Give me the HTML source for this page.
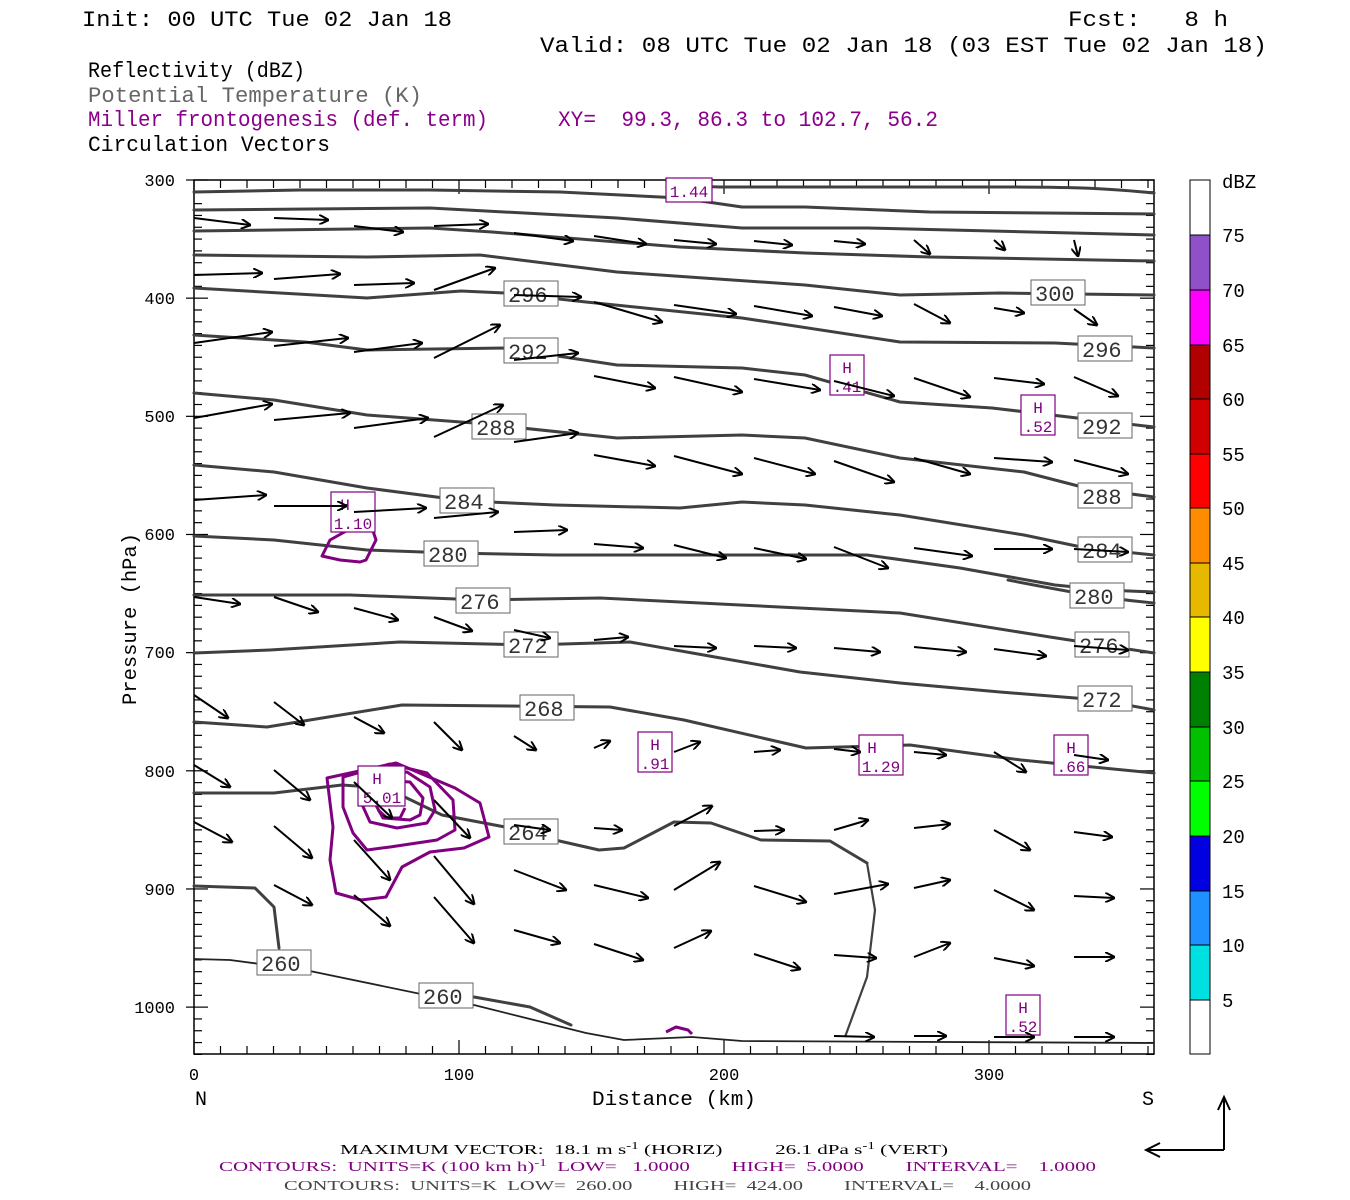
<!DOCTYPE html>
<html><head><meta charset="utf-8"><style>
html,body{margin:0;padding:0;background:#fff}
svg{display:block}
text{font-family:"Liberation Serif","DejaVu Serif",serif;white-space:pre}
.m,.m text,text.m{font-family:"Liberation Mono","DejaVu Sans Mono",monospace}
</style></head><body>
<svg width="1350" height="1200" viewBox="0 0 1350 1200" xmlns="http://www.w3.org/2000/svg" xml:space="preserve">
<defs><marker id="ah" markerWidth="10" markerHeight="10" refX="9" refY="5" orient="auto" markerUnits="userSpaceOnUse"><path d="M0,0 L10,5 L0,10" fill="none" stroke="#000" stroke-width="2"/></marker></defs>
<g class="m" font-size="22" fill="#000">
<text x="82" y="26" textLength="370" lengthAdjust="spacingAndGlyphs">Init: 00 UTC Tue 02 Jan 18</text>
<text x="1068" y="26" textLength="160" lengthAdjust="spacingAndGlyphs">Fcst:   8 h</text>
<text x="540" y="52" textLength="727" lengthAdjust="spacingAndGlyphs">Valid: 08 UTC Tue 02 Jan 18 (03 EST Tue 02 Jan 18)</text>
<text x="88" y="77" textLength="217" lengthAdjust="spacingAndGlyphs">Reflectivity (dBZ)</text>
<text x="88" y="102" fill="#666" textLength="334" lengthAdjust="spacingAndGlyphs">Potential Temperature (K)</text>
<text x="88" y="126" fill="#8b008b" textLength="400" lengthAdjust="spacingAndGlyphs">Miller frontogenesis (def. term)</text>
<text x="558" y="126" fill="#8b008b" textLength="380" lengthAdjust="spacingAndGlyphs">XY=  99.3, 86.3 to 102.7, 56.2</text>
<text x="88" y="151" textLength="242" lengthAdjust="spacingAndGlyphs">Circulation Vectors</text>
</g>
<rect x="194" y="180" width="960" height="874" fill="none" stroke="#000" stroke-width="1.5"/>
<g id="ticks" stroke="#000" stroke-width="1.2"></g>
<g class="m" font-size="17" text-anchor="end">
<text x="175" y="186">300</text><text x="175" y="304">400</text><text x="175" y="422">500</text><text x="175" y="540">600</text><text x="175" y="658">700</text><text x="175" y="777">800</text><text x="175" y="895">900</text><text x="175" y="1013">1000</text>
</g>
<g class="m" font-size="17" text-anchor="middle">
<text x="194" y="1080">0</text><text x="459" y="1080">100</text><text x="724" y="1080">200</text><text x="989" y="1080">300</text>
</g>
<g class="m" font-size="20">
<text x="195" y="1105">N</text><text x="1142" y="1105">S</text>
<text x="592" y="1105" textLength="164" lengthAdjust="spacingAndGlyphs">Distance (km)</text>
<text transform="translate(136,705) rotate(-90)" textLength="172" lengthAdjust="spacingAndGlyphs">Pressure (hPa)</text>
</g>
<!-- theta contours -->
<g fill="none" stroke="#404040" stroke-width="3" stroke-linejoin="round" stroke-linecap="round">
<path d="M666,180 C690,184 700,187 720,187 S900,187 1000,187 S1120,190 1154,193"/>
<path d="M194,192 L300,190 L430,190 L560,192 L680,198 L742,207 L805,207 L930,212 L1154,214"/>
<path d="M194,210 L430,208 L617,218 L742,228 L867,228 L1154,235"/>
<path d="M194,231 L430,228 L492,232 L680,247 L805,253 L930,257 L1154,261"/>
<path d="M194,255 L367,257 L480,255 L617,272 L805,285 L900,295 L1000,293 L1154,295"/>
<path d="M194,288 L367,298 L461,291 L505,293 L586,302 L742,318 L900,342 L1055,343 L1154,348"/>
<path d="M194,335 L305,342 L367,350 L505,348 L617,365 L742,368 L805,375 L900,402 L992,408 L1154,427"/>
<path d="M194,393 L274,400 L367,415 L474,423 L617,438 L742,435 L805,438 L900,458 L1024,472 L1086,488 L1154,497"/>
<path d="M194,465 L274,472 L367,488 L467,501 L555,505 L680,508 L742,502 L805,505 L900,515 L1024,535 L1086,548 L1154,555"/>
<path d="M194,536 L274,540 L367,550 L451,553 L555,555 L867,555 L960,568 L1055,585 L1105,590 L1154,592"/>
<path d="M1008,580 C1060,590 1100,598 1154,603"/>
<path d="M194,595 L350,595 L482,600 L600,598 L700,603 L900,613 L1050,637 L1154,653"/>
<path d="M194,653 L270,650 L400,642 L530,645 L630,642 L715,657 L800,672 L900,683 L1000,692 L1100,700 L1154,710"/>
<path d="M194,722 L267,727 L402,705 L610,707 L684,720 L806,748 L910,745 L1021,760 L1154,773"/>
<path d="M194,793 L274,793 L342,785 L386,788 L442,815 L505,827 L555,840 L599,850 L624,848 L674,822 L711,823 L761,840 L830,841 L867,863"/>
<path d="M194,886 L255,888 L274,907 L279,948"/>
<path d="M474,997 L530,1007 L571,1025"/>
</g>
<g fill="none" stroke="#404040" stroke-width="2.2" stroke-linejoin="round">
<path d="M867,863 L875,910 L867,977 L845,1037"/>
</g>
<g fill="none" stroke="#222" stroke-width="1.8" stroke-linejoin="round">
<path d="M194,959 L230,960 L305,970 L474,1005 L586,1033 L624,1040 L692,1037 L742,1041 L1154,1043"/>
</g>
<!-- theta labels -->
<g class="m" font-size="22" fill="#333">
<g stroke="#666" stroke-width="1" fill="#fff">
<rect x="504" y="281" width="54" height="25"/><rect x="1031" y="280" width="54" height="25"/>
<rect x="504" y="338" width="54" height="25"/><rect x="1078" y="336" width="54" height="25"/>
<rect x="472" y="414" width="54" height="25"/><rect x="1078" y="413" width="54" height="25"/>
<rect x="440" y="488" width="54" height="25"/><rect x="1078" y="483" width="54" height="25"/>
<rect x="424" y="541" width="54" height="25"/><rect x="1078" y="537" width="54" height="25"/>
<rect x="456" y="588" width="54" height="25"/><rect x="1070" y="583" width="54" height="25"/>
<rect x="504" y="632" width="54" height="25"/><rect x="1075" y="632" width="54" height="25"/>
<rect x="520" y="695" width="54" height="25"/><rect x="1078" y="686" width="54" height="25"/>
<rect x="504" y="819" width="54" height="25"/>
<rect x="257" y="950" width="54" height="25"/><rect x="419" y="983" width="54" height="25"/>
</g>
<text x="508" y="302">296</text><text x="1035" y="301">300</text>
<text x="508" y="359">292</text><text x="1082" y="357">296</text>
<text x="476" y="435">288</text><text x="1082" y="434">292</text>
<text x="444" y="509">284</text><text x="1082" y="504">288</text>
<text x="428" y="562">280</text><text x="1082" y="558">284</text>
<text x="460" y="609">276</text><text x="1074" y="604">280</text>
<text x="508" y="653">272</text><text x="1079" y="653">276</text>
<text x="524" y="716">268</text><text x="1082" y="707">272</text>
<text x="508" y="840">264</text>
<text x="261" y="971">260</text><text x="423" y="1004">260</text>
</g>
<!-- frontogenesis contours -->
<g fill="none" stroke="#800080" stroke-width="3" stroke-linejoin="round">
<path d="M327,778 L396,763 L455,788 L480,803 L489,837 L464,848 L430,852 L402,867 L386,897 L361,900 L336,893 L330,860 L333,827 Z"/>
<path d="M343,777 L390,764 L427,773 L453,800 L455,830 L437,840 L390,847 L367,850 L353,833 L343,807 Z"/>
<path d="M365,777 L407,772 L430,787 L435,810 L427,823 L397,828 L370,822 L360,800 Z"/>
<path d="M380,780 L410,782 L423,798 L420,815 L410,820 L383,818 L373,800 Z"/>
<path d="M378,810 L387,818 L400,818 L405,808"/>
<path d="M330,540 L348,530 L372,528 L376,540 L366,560 L360,562 L340,560 L322,556 Z"/>
<path d="M666,1032 L676,1027 L688,1030 L692,1034"/>
</g>
<!-- H labels -->
<g class="m" font-size="16" fill="#800080" text-anchor="middle">
<g fill="#fff" stroke="#800080" stroke-width="1.2">
<rect x="666" y="178" width="46" height="24"/>
<rect x="830" y="355" width="34" height="40"/>
<rect x="1021" y="395" width="34" height="40"/>
<rect x="331" y="492" width="44" height="40"/>
<rect x="638" y="732" width="34" height="40"/>
<rect x="859" y="735" width="44" height="40"/>
<rect x="1054" y="735" width="34" height="40"/>
<rect x="358" y="766" width="47" height="40"/>
<rect x="1006" y="995" width="34" height="40"/>
</g>
<text x="689" y="197">1.44</text>
<text x="847" y="373">H</text><text x="847" y="392">.41</text>
<text x="1038" y="413">H</text><text x="1038" y="432">.52</text>
<text x="345" y="510">H</text><text x="353" y="529">1.10</text>
<text x="655" y="750">H</text><text x="655" y="769">.91</text>
<text x="872" y="753">H</text><text x="881" y="772">1.29</text>
<text x="1071" y="753">H</text><text x="1071" y="772">.66</text>
<text x="377" y="784">H</text><text x="382" y="803">5.01</text>
<text x="1023" y="1013">H</text><text x="1023" y="1032">.52</text>
</g>
<!-- vectors -->
<g id="vec" stroke="#000" stroke-width="2" marker-end="url(#ah)"></g>
<!-- colorbar -->
<g stroke="#000" stroke-width="1">
<rect x="1190" y="180" width="20" height="55" fill="#fff"/>
<rect x="1190" y="235" width="20" height="55" fill="#9050c8"/>
<rect x="1190" y="290" width="20" height="55" fill="#ff00ff"/>
<rect x="1190" y="345" width="20" height="54" fill="#b00000"/>
<rect x="1190" y="399" width="20" height="55" fill="#d00000"/>
<rect x="1190" y="454" width="20" height="54" fill="#ff0000"/>
<rect x="1190" y="508" width="20" height="55" fill="#ff8c00"/>
<rect x="1190" y="563" width="20" height="54" fill="#e6b800"/>
<rect x="1190" y="617" width="20" height="55" fill="#ffff00"/>
<rect x="1190" y="672" width="20" height="55" fill="#008000"/>
<rect x="1190" y="727" width="20" height="54" fill="#00c000"/>
<rect x="1190" y="781" width="20" height="55" fill="#00ff00"/>
<rect x="1190" y="836" width="20" height="55" fill="#0000e0"/>
<rect x="1190" y="891" width="20" height="54" fill="#1e90ff"/>
<rect x="1190" y="945" width="20" height="55" fill="#00e0e0"/>
<rect x="1190" y="1000" width="20" height="54" fill="#fff"/>
</g>
<g class="m" font-size="19">
<text x="1222" y="188">dBZ</text>
<text x="1222" y="242">75</text><text x="1222" y="297">70</text><text x="1222" y="352">65</text><text x="1222" y="406">60</text><text x="1222" y="461">55</text><text x="1222" y="515">50</text><text x="1222" y="570">45</text><text x="1222" y="624">40</text><text x="1222" y="679">35</text><text x="1222" y="734">30</text><text x="1222" y="788">25</text><text x="1222" y="843">20</text><text x="1222" y="898">15</text><text x="1222" y="952">10</text><text x="1222" y="1007">5</text>
</g>
<!-- reference arrows -->
<g stroke="#000" stroke-width="2" fill="none">
<path d="M1224,1150 L1224,1097 M1218,1110 L1224,1097 L1230,1110"/>
<path d="M1224,1150 L1146,1150 M1160,1143 L1146,1150 L1160,1157"/>
</g>
<!-- footer -->
<g font-size="14">
<text x="340" y="1154" textLength="608" lengthAdjust="spacingAndGlyphs">MAXIMUM VECTOR:  18.1 m s<tspan dy="-5" font-size="10">-1</tspan><tspan dy="5"> (HORIZ)          26.1 dPa s</tspan><tspan dy="-5" font-size="10">-1</tspan><tspan dy="5"> (VERT)</tspan></text>
<text x="219" y="1171" fill="#800080" textLength="877" lengthAdjust="spacingAndGlyphs">CONTOURS:  UNITS=K (100 km h)<tspan dy="-5" font-size="10">-1</tspan><tspan dy="5">  LOW=   1.0000        HIGH=  5.0000        INTERVAL=    1.0000</tspan></text>
<text x="284" y="1190" fill="#444" textLength="747" lengthAdjust="spacingAndGlyphs">CONTOURS:  UNITS=K  LOW=  260.00        HIGH=  424.00        INTERVAL=    4.0000</text>
</g>
<script>
var ns='http://www.w3.org/2000/svg';
function ln(g,a,b,c,d){var l=document.createElementNS(ns,'line');l.setAttribute('x1',a);l.setAttribute('y1',b);l.setAttribute('x2',c);l.setAttribute('y2',d);g.appendChild(l);}
var t=document.getElementById('ticks');
for(var k=0;k<=36;k++){var x=194+k*26.5;if(x>1154)break;var L=(k%10==0)?14:8;ln(t,x,180,x,180+L);ln(t,x,1054,x,1054-L);}
for(var p=300;p<=1040;p+=10){var y=180+(p-300)*1.1816;var L=(p%100==0)?14:8;ln(t,194,y,194+L,y);ln(t,1154,y,1154-L,y);}
ln(t,186,180,194,180);for(var p=400;p<=1000;p+=100){var y=180+(p-300)*1.1816;ln(t,186,y,194,y);}
var A=[
[194,218,250,225],[274,218,328,220],[354,226,403,232],[434,226,488,224],[514,233,573,241],[594,236,646,244],[674,240,716,244],[754,241,792,245],[834,241,865,244],[914,240,930,254],[994,240,1005,250],[1074,240,1078,256],
[194,275,262,273],[274,279,340,274],[354,285,414,283],[434,290,495,268],[514,295,581,297],[594,302,662,322],[674,305,736,314],[754,306,812,316],[834,307,882,316],[914,304,950,323],[994,308,1024,313],[1074,309,1097,325],
[194,343,272,332],[274,346,348,338],[354,352,422,343],[434,358,500,325],[514,360,578,353],[594,376,655,388],[674,377,742,392],[754,379,820,390],[834,381,894,396],[914,378,970,397],[994,378,1044,384],[1074,377,1118,396],
[194,418,272,404],[274,420,350,413],[354,428,428,418],[434,437,503,405],[514,442,578,433],[594,455,655,466],[674,456,742,474],[754,458,815,474],[834,461,894,482],[914,458,970,474],[994,458,1052,462],[1074,460,1128,474],
[194,500,266,495],[274,506,346,506],[354,512,426,508],[434,518,498,512],[514,532,567,530],[594,544,643,548],[674,545,726,558],[754,548,806,559],[834,547,888,568],[914,548,972,556],[994,549,1052,549],[1074,549,1128,552],
[194,597,240,604],[274,597,318,612],[354,608,398,620],[434,617,472,631],[514,630,550,638],[594,640,628,637],[674,646,716,648],[754,646,796,648],[834,648,880,652],[914,647,966,652],[994,649,1046,656],[1074,646,1128,650],
[194,695,228,718],[274,702,304,725],[354,717,384,733],[434,722,462,750],[514,736,536,750],[594,748,610,741],[674,752,700,742],[754,752,780,750],[834,749,860,752],[914,752,946,755],[994,752,1026,772],[1074,755,1108,760],
[194,765,230,787],[274,770,310,800],[354,782,392,818],[434,800,470,838],[514,825,550,830],[594,828,622,830],[674,826,712,806],[754,831,784,830],[834,830,868,820],[914,828,950,824],[994,830,1030,850],[1074,832,1112,837],
[194,822,232,842],[274,826,312,858],[354,840,390,880],[434,856,474,904],[514,870,566,890],[594,885,648,898],[674,890,720,862],[754,886,806,902],[834,894,888,884],[914,888,950,880],[994,890,1034,910],[1074,896,1114,898],
[274,885,312,905],[354,895,390,926],[434,897,474,943],[514,930,560,943],[594,944,643,960],[674,948,711,931],[754,954,800,969],[834,955,876,958],[914,957,950,943],[994,958,1034,966],[1074,957,1114,957],
[834,1036,874,1037],[914,1036,946,1036],[994,1037,1034,1037],[1074,1037,1114,1037]];
var g=document.getElementById('vec');
A.forEach(function(a){ln(g,a[0],a[1],a[2],a[3]);});
</script>
</svg>
</body></html>
